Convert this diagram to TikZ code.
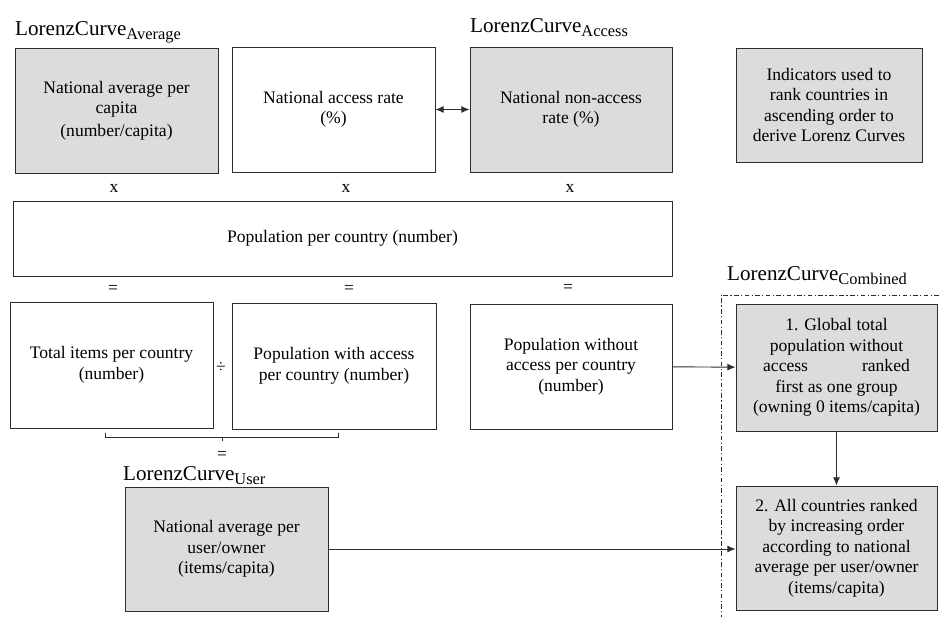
\documentclass[tikz,border=0pt]{standalone}
\usepackage{fontspec}
\setmainfont{Liberation Serif}
\usetikzlibrary{arrows.meta, calc}

\definecolor{boxgray}{RGB}{220,220,221}
\definecolor{edgegray}{RGB}{45,45,45}
\newcommand{\lorenz}[1]{{\fontsize{18}{20}\selectfont LorenzCurve\raisebox{-0.5ex}{\fontsize{14}{15}\selectfont #1}}}

\tikzset{
	whitebox/.style={draw=edgegray, line width=0.8pt, align=center, inner sep=2pt, font=\fontsize{15}{17.5}\selectfont},
	graybox/.style={whitebox, fill=boxgray},
	lclabel/.style={anchor=base west, inner sep=0pt},
	op/.style={inner sep=0pt, font=\fontsize{15}{17}\selectfont},
	link/.style={draw=edgegray, line width=0.8pt, -{Latex[length=7pt,width=6pt]}},
}

\begin{document}
\begin{tikzpicture}[x=0.03cm, y=-0.03cm]
	\useasboundingbox (0,0) rectangle (939,617);
	% top row
	\node[graybox, minimum width=6.09cm, minimum height=3.75cm] (avg) at (116.5,110.5) {National average per\\capita\\[2pt](number/capita)};
	\node[whitebox, minimum width=6.09cm, minimum height=3.75cm] (acc) at (333.5,109.5) {National access rate\\(\%)};
	\node[graybox, minimum width=6.06cm, minimum height=3.75cm] (nonacc) at (571,109.5) {National non-access\\rate (\%)};
	\node[graybox, minimum width=5.58cm, minimum height=3.42cm] (ind) at (829,105) {Indicators used to\\rank countries in\\ascending order to\\derive Lorenz Curves};
	\node[lclabel] (lcavg) at (15,35) {\lorenz{Average}};
	\node[lclabel] (lcacc) at (470,32) {\lorenz{Access}};
	\draw[draw=edgegray, line width=0.8pt, {Latex[length=7pt,width=6pt]}-{Latex[length=7pt,width=6pt]}] (acc) -- (nonacc);

	\node[op] (x1) at (114,188) {x};
	\node[op] (x2) at (346,188) {x};
	\node[op] (x3) at (570,188) {x};

	\node[whitebox, minimum width=19.77cm, minimum height=2.25cm] (pop) at (342.5,238.5) {Population per country (number)};

	\node[op] (eq1) at (113,289) {=};
	\node[op] (eq2) at (349,289) {=};
	\node[op] (eq3) at (568,288) {=};

	% middle row
	\node[whitebox, minimum width=6.09cm, minimum height=3.78cm] (total) at (111.5,365) {Total items per country\\(number)};
	\node[whitebox, minimum width=6.12cm, minimum height=3.78cm] (withacc) at (334,366) {Population with access\\per country (number)};
	\node[whitebox, minimum width=6.06cm, minimum height=3.75cm] (without) at (571,366.5) {Population without\\access per country\\(number)};
	\node[op] (div) at (221,368) {÷};

	% bracket under the division
	\draw[draw=edgegray, line width=0.6pt] (105,433) -- (105,437) -- (338,437) -- (338,433);
	\draw[draw=edgegray, line width=0.6pt] (222,437) -- (222,441);
	\node[op] (eq4) at (222,455) {=};

	\node[lclabel] (lcuser) at (123,480) {\lorenz{User}};
	\node[graybox, minimum width=6.09cm, minimum height=3.72cm] (user) at (226.5,549) {National average per\\user/owner\\(items/capita)};

	% combined curve
	\node[lclabel] (lccomb) at (727,280) {\lorenz{Combined}};
	\draw[edgegray, line width=0.6pt, dash pattern=on 4pt off 2pt on 1pt off 2pt] (939,295) -- (721,295) -- (721,617);
	\node[graybox, minimum width=6.03cm, minimum height=3.81cm] (step1) at (836.5,367.5) {1. Global total\\population without\\\makebox[4.4cm][s]{access ranked}\\first as one group\\(owning 0 items/capita)};
	\node[graybox, minimum width=6.03cm, minimum height=3.72cm] (step2) at (836.5,548) {2. All countries ranked\\by increasing order\\according to national\\average per user/owner\\(items/capita)};

	\draw[link] (without) -- (step1);
	\draw[link] (step1) -- (step2);
	\draw[link] (user) -- (step2.west |- user.east);
\end{tikzpicture}
\end{document}
